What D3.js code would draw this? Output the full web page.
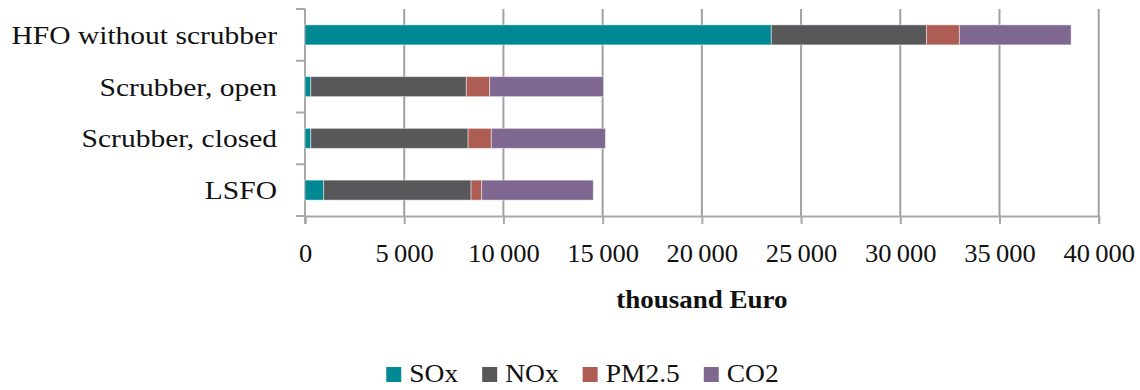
<!DOCTYPE html>
<html>
<head>
<meta charset="utf-8">
<script src="https://cdn.jsdelivr.net/npm/d3@7"></script>
<style>
  html, body { margin: 0; padding: 0; background: #fff; }
  svg { display: block; font-family: "Liberation Serif", "Times New Roman", serif; }
</style>
</head>
<body>
<svg id="chart" width="1140" height="390"></svg>
<script>
// External costs per fuel option (thousand Euro), stacked by pollutant
const categories = ["HFO without scrubber", "Scrubber, open", "Scrubber, closed", "LSFO"];
const seriesNames = ["SOx", "NOx", "PM2.5", "CO2"];
const sox  = [23500, 290, 290, 940];
const nox  = [7820, 7840, 7930, 7430];
const pm25 = [1660, 1180, 1170, 530];
const co2  = [5630, 5730, 5750, 5630];
const xTicks = [0, 5000, 10000, 15000, 20000, 25000, 30000, 35000, 40000];
const xTitle = "thousand Euro";

const colors = ["#008893", "#58585b", "#ad5d53", "#7e6890"];

const rows = categories.map((c, i) => ({
  category: c, SOx: sox[i], NOx: nox[i], "PM2.5": pm25[i], CO2: co2[i]
}));
const stacked = d3.stack().keys(seriesNames)(rows);

const svg = d3.select("#chart");
const plotLeft = 305, plotRight = 1098.7, plotTop = 9, plotBottom = 216;

const x = d3.scaleLinear().domain([0, 40000]).range([plotLeft, plotRight]);
const slot = d3.scaleBand().domain(categories).range([plotTop, plotBottom]).padding(0);
const y = d3.scaleBand().domain(categories).range([plotTop, plotBottom])
  .paddingInner(0.6135).paddingOuter(0.6135 / 2);

const color = d3.scaleOrdinal().domain(seriesNames).range(colors);
const fmt = v => d3.format(",")(v).replace(/,/g, "\u2009");

// widen a text run to approximate a broader book face
function stretch(sel, k) {
  sel.each(function () {
    const w = this.getComputedTextLength();
    d3.select(this).attr("textLength", w * k).attr("lengthAdjust", "spacingAndGlyphs");
  });
}

// vertical gridlines
svg.append("g")
  .selectAll("line")
  .data(xTicks.filter(t => t > 0))
  .join("line")
  .attr("x1", d => x(d)).attr("x2", d => x(d))
  .attr("y1", plotTop).attr("y2", plotBottom)
  .attr("stroke", "#a0a0a0").attr("stroke-width", 2);

// bottom axis
const xAxis = svg.append("g")
  .attr("transform", `translate(0,${plotBottom})`)
  .call(d3.axisBottom(x).tickValues(xTicks).tickSize(8).tickPadding(20).tickFormat(fmt));
xAxis.select(".domain").attr("stroke", "#a8a8a8").attr("stroke-width", 2);
xAxis.selectAll(".tick line").attr("stroke", "#a8a8a8").attr("stroke-width", 2);
xAxis.selectAll(".tick text")
  .attr("font-family", "Liberation Serif, serif")
  .attr("font-size", 25).attr("fill", "#111")
  .call(stretch, 1.06);

// left axis: ticks at category boundaries
const bounds = categories.map(c => slot(c)).concat([plotBottom]);
svg.append("line")
  .attr("x1", plotLeft).attr("x2", plotLeft).attr("y1", plotTop).attr("y2", plotBottom + 8)
  .attr("stroke", "#a8a8a8").attr("stroke-width", 2);
svg.append("g").selectAll("line").data(bounds).join("line")
  .attr("x1", plotLeft - 9).attr("x2", plotLeft)
  .attr("y1", d => d).attr("y2", d => d)
  .attr("stroke", "#a8a8a8").attr("stroke-width", 2);

// category labels
svg.append("g").selectAll("text").data(categories).join("text")
  .attr("x", 277)
  .attr("y", d => slot(d) + slot.bandwidth() / 2 + 9)
  .attr("text-anchor", "end")
  .attr("font-size", 25).attr("fill", "#111")
  .text(d => d)
  .call(stretch, 1.18);

// stacked bars
svg.append("g").selectAll("g").data(stacked).join("g")
  .attr("fill", d => color(d.key))
  .selectAll("rect").data(d => d).join("rect")
  .attr("x", d => x(d[0]))
  .attr("width", d => x(d[1]) - x(d[0]))
  .attr("y", d => y(d.data.category))
  .attr("height", y.bandwidth())
  .attr("stroke", "rgba(255,255,255,0.45)").attr("stroke-width", 1);

// axis title
svg.append("text")
  .attr("x", (plotLeft + plotRight) / 2).attr("y", 308)
  .attr("text-anchor", "middle")
  .attr("font-size", 25).attr("font-weight", "bold").attr("fill", "#111")
  .text(xTitle)
  .call(stretch, 1.08);

// legend
const legend = svg.append("g");
let cursor = 0;
seriesNames.forEach(name => {
  const item = legend.append("g").attr("transform", `translate(${cursor},0)`);
  item.append("rect").attr("x", 0).attr("y", 367).attr("width", 15).attr("height", 15)
    .attr("fill", color(name));
  const t = item.append("text").attr("x", 23).attr("y", 382)
    .attr("font-size", 25).attr("fill", "#111").text(name).call(stretch, 1.1);
  cursor += 23 + (+t.attr("textLength")) + 24;
});
const legendWidth = cursor - 24;
legend.attr("transform", `translate(${582.5 - legendWidth / 2},0)`);
</script>
</body>
</html>
